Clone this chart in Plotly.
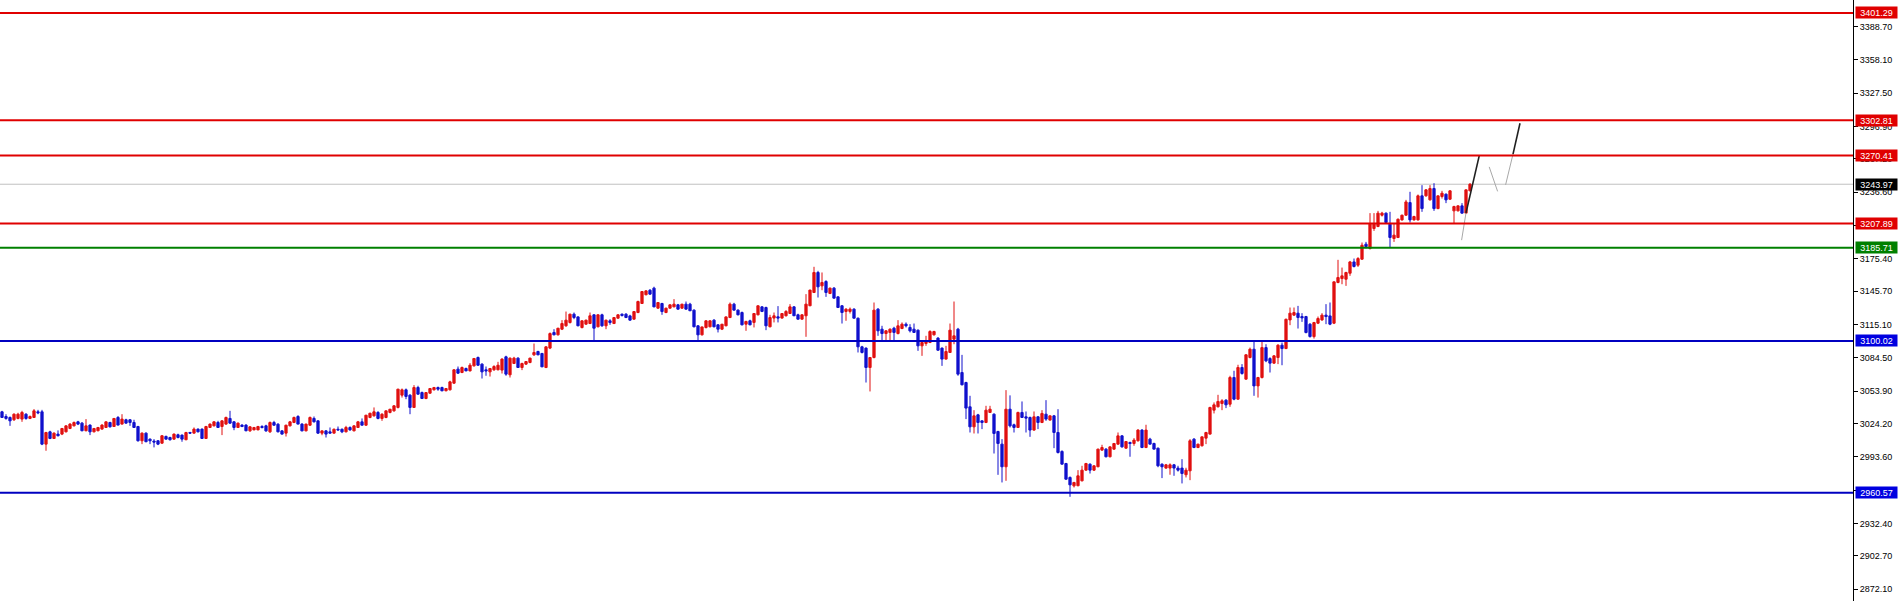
import plotly.graph_objects as go

# ---------------- data ----------------
open_ = [
    3034.9, 3030.6, 3029.7, 3027.6, 3028.8, 3028.2, 3032.7, 3028.8, 3029.7, 3034.9,
    3034.9, 3005.2, 3016.5, 3010.4, 3014.4, 3014.4, 3016.5, 3019.6, 3022.0, 3025.7,
    3024.5, 3017.5, 3022.7, 3016.5, 3017.5, 3019.0, 3020.5, 3025.1, 3021.4, 3029.7,
    3023.6, 3027.6, 3027.6, 3025.1, 3021.4, 3008.3, 3015.3, 3009.8, 3008.0, 3008.3,
    3006.1, 3012.3, 3011.3, 3009.8, 3013.8, 3013.5, 3009.2, 3015.9, 3015.3, 3019.0,
    3019.0, 3010.4, 3020.5, 3022.0, 3025.1, 3021.4, 3023.6, 3028.8, 3025.7, 3020.5,
    3022.7, 3022.7, 3017.4, 3018.3, 3018.3, 3021.4, 3022.0, 3016.5, 3025.1, 3023.5,
    3017.4, 3015.3, 3022.0, 3025.1, 3030.6, 3023.6, 3017.4, 3022.6, 3028.8, 3026.6,
    3015.3, 3017.4, 3016.5, 3015.3, 3018.9, 3018.9, 3016.5, 3020.5, 3017.4, 3020.5,
    3025.7, 3022.6, 3029.7, 3031.2, 3034.3, 3028.8, 3029.7, 3034.3, 3035.8, 3038.9,
    3050.2, 3055.1, 3050.2, 3038.9, 3057.2, 3052.6, 3047.1, 3052.0, 3055.1, 3057.2,
    3057.2, 3054.2, 3055.1, 3061.2, 3074.1, 3071.0, 3074.7, 3072.5, 3077.1, 3084.8,
    3078.7, 3073.5, 3071.6, 3073.5, 3073.5, 3073.2, 3085.4, 3068.9, 3079.3, 3084.2,
    3075.6, 3078.7, 3080.2, 3087.2, 3090.3, 3088.5, 3075.6, 3093.4, 3107.8, 3105.6,
    3110.8, 3113.9, 3116.9, 3124.6, 3122.1, 3112.3, 3115.4, 3116.0, 3124.0, 3113.0,
    3124.0, 3113.9, 3118.5, 3116.0, 3120.9, 3124.6, 3124.6, 3123.0, 3120.0, 3126.1,
    3134.4, 3142.4, 3146.6, 3148.5, 3130.1, 3134.4, 3126.1, 3130.1, 3131.3, 3133.2,
    3130.1, 3133.8, 3133.8, 3128.3, 3113.9, 3105.6, 3112.3, 3113.0, 3119.1, 3114.8,
    3110.8, 3113.9, 3121.5, 3133.8, 3128.3, 3126.1, 3115.4, 3118.5, 3117.0, 3124.0,
    3131.3, 3130.7, 3113.0, 3121.0, 3122.2, 3121.0, 3123.1, 3125.2, 3131.3, 3124.0,
    3120.0, 3123.1, 3132.3, 3144.5, 3162.9, 3150.6, 3154.6, 3143.6, 3148.5, 3140.5,
    3132.3, 3127.1, 3127.1, 3129.2, 3120.9, 3094.6, 3093.4, 3075.6, 3084.8, 3129.2,
    3110.8, 3106.8, 3107.8, 3111.7, 3106.8, 3111.4, 3115.4, 3112.4, 3110.8, 3109.9,
    3095.5, 3097.7, 3098.6, 3105.6, 3102.6, 3093.4, 3083.3, 3089.4, 3101.6, 3110.8,
    3071.0, 3061.8, 3039.5, 3021.1, 3032.1, 3026.6, 3025.1, 3034.3, 3032.7, 3016.8,
    3005.2, 2984.4, 3037.3, 3023.0, 3020.5, 3034.3, 3030.3, 3029.7, 3018.1, 3030.3,
    3025.1, 3032.7, 3027.3, 3031.2, 3015.9, 2998.5, 2987.4, 2974.6, 2966.9, 2967.0,
    2971.5, 2981.3, 2986.8, 2981.3, 2984.4, 2999.7, 3000.6, 2993.6, 3000.6, 3005.2,
    3012.8, 3001.5, 3006.7, 3005.8, 3008.3, 3018.1, 3002.1, 3009.8, 3005.8, 3001.5,
    2986.8, 2983.2, 2983.2, 2986.2, 2983.2, 2983.2, 2977.1, 2980.7, 3009.8, 3002.1,
    3003.7, 3010.7, 3014.4, 3036.4, 3039.5, 3042.5, 3045.6, 3041.9, 3066.4, 3046.5,
    3075.6, 3064.9, 3084.8, 3092.4, 3058.7, 3066.4, 3093.9, 3083.8, 3079.6, 3084.8,
    3096.1, 3093.0, 3119.3, 3123.7, 3125.5, 3122.4, 3122.4, 3115.4, 3104.0, 3116.3,
    3119.3, 3123.7, 3123.0, 3116.3, 3153.7, 3157.3, 3156.7, 3162.2, 3172.6, 3169.6,
    3175.1, 3188.9, 3184.9, 3203.3, 3205.1, 3215.5, 3217.4, 3207.3, 3194.1, 3195.0,
    3211.2, 3215.5, 3227.1, 3211.2, 3211.2, 3233.3, 3233.3, 3229.6, 3240.0, 3221.6,
    3232.7, 3234.8, 3230.2, 3219.5, 3219.5, 3224.1, 3217.4, 3237.9,
]
high = [
    3035.8, 3032.7, 3030.6, 3033.5, 3034.0, 3035.8, 3033.6, 3031.5, 3037.4, 3036.7,
    3036.7, 3016.5, 3017.5, 3016.0, 3017.8, 3020.0, 3022.5, 3024.5, 3026.0, 3026.6,
    3025.5, 3028.2, 3023.3, 3020.0, 3021.0, 3023.5, 3026.0, 3025.7, 3029.0, 3031.0,
    3032.7, 3028.5, 3028.2, 3027.6, 3022.0, 3016.0, 3016.0, 3010.4, 3009.8, 3008.9,
    3013.5, 3013.0, 3012.0, 3015.0, 3014.8, 3014.0, 3016.5, 3016.5, 3020.5, 3019.6,
    3019.6, 3022.0, 3024.2, 3026.2, 3026.6, 3027.2, 3030.5, 3035.8, 3026.4, 3025.0,
    3023.5, 3023.5, 3021.8, 3021.0, 3022.0, 3022.6, 3023.0, 3026.0, 3026.6, 3024.5,
    3018.0, 3023.0, 3026.5, 3030.5, 3031.8, 3024.5, 3024.0, 3030.6, 3030.6, 3027.0,
    3017.6, 3018.0, 3020.5, 3019.5, 3021.4, 3019.5, 3022.0, 3021.5, 3022.6, 3026.5,
    3028.8, 3032.0, 3034.0, 3038.9, 3035.5, 3033.6, 3036.0, 3037.5, 3041.0, 3056.0,
    3056.3, 3056.3, 3051.0, 3059.4, 3058.8, 3053.5, 3053.0, 3056.5, 3057.8, 3058.1,
    3058.0, 3056.8, 3063.4, 3074.0, 3076.5, 3076.5, 3075.5, 3079.6, 3084.0, 3085.7,
    3079.5, 3076.5, 3075.0, 3077.7, 3080.8, 3084.2, 3086.4, 3084.8, 3085.4, 3085.0,
    3080.0, 3081.5, 3084.5, 3097.6, 3091.0, 3089.0, 3095.0, 3107.8, 3110.8, 3112.0,
    3119.1, 3127.0, 3125.0, 3126.1, 3122.7, 3119.0, 3119.5, 3126.1, 3124.5, 3124.5,
    3125.0, 3119.5, 3120.0, 3122.0, 3124.5, 3125.2, 3125.5, 3124.0, 3127.5, 3137.0,
    3145.5, 3146.5, 3147.6, 3149.8, 3135.5, 3135.0, 3130.5, 3133.5, 3138.4, 3134.0,
    3134.0, 3136.2, 3135.0, 3129.0, 3114.5, 3113.0, 3119.0, 3119.0, 3120.0, 3115.5,
    3115.5, 3122.5, 3135.3, 3135.0, 3129.0, 3127.0, 3118.5, 3119.5, 3125.5, 3132.5,
    3132.0, 3131.5, 3124.0, 3126.1, 3132.0, 3125.5, 3128.3, 3133.8, 3132.0, 3125.0,
    3124.5, 3143.0, 3147.0, 3168.1, 3164.4, 3162.9, 3155.8, 3149.0, 3149.5, 3141.0,
    3133.0, 3130.0, 3130.7, 3130.0, 3121.5, 3095.5, 3094.0, 3085.0, 3135.3, 3130.1,
    3113.9, 3110.0, 3111.5, 3113.0, 3119.1, 3117.0, 3117.0, 3115.4, 3116.0, 3110.5,
    3099.0, 3104.7, 3109.8, 3109.3, 3103.5, 3094.0, 3095.5, 3116.0, 3136.2, 3112.0,
    3087.2, 3062.5, 3049.6, 3036.4, 3033.0, 3027.0, 3040.4, 3040.4, 3033.5, 3017.5,
    3009.8, 3054.8, 3050.0, 3024.0, 3035.0, 3044.4, 3035.2, 3030.5, 3035.2, 3031.0,
    3036.4, 3045.6, 3031.5, 3032.0, 3037.3, 2999.5, 2988.0, 2975.5, 2970.5, 2981.3,
    2985.3, 2988.0, 2987.5, 2985.8, 3001.0, 3004.6, 3001.5, 3003.0, 3006.0, 3015.9,
    3013.5, 3008.0, 3007.5, 3010.7, 3019.0, 3019.0, 3023.0, 3011.0, 3006.5, 3002.0,
    2987.5, 2987.0, 2987.5, 2987.0, 2985.3, 2991.4, 2983.5, 3009.8, 3010.7, 3005.5,
    3012.0, 3016.5, 3039.5, 3043.5, 3050.5, 3046.5, 3046.5, 3068.0, 3072.6, 3078.1,
    3078.7, 3087.6, 3093.9, 3100.1, 3067.0, 3100.1, 3097.0, 3085.0, 3087.0, 3097.0,
    3098.5, 3120.5, 3130.7, 3130.7, 3132.2, 3125.5, 3123.0, 3116.3, 3117.5, 3122.4,
    3125.5, 3133.8, 3135.3, 3154.5, 3174.5, 3167.4, 3163.5, 3173.5, 3175.7, 3177.0,
    3190.4, 3191.0, 3217.4, 3217.4, 3219.5, 3218.6, 3218.0, 3218.6, 3208.2, 3212.5,
    3216.0, 3229.6, 3237.0, 3215.0, 3234.5, 3243.1, 3239.5, 3243.1, 3244.9, 3233.5,
    3237.9, 3235.5, 3238.5, 3224.2, 3224.5, 3226.6, 3239.0, 3245.0,
]
low = [
    3029.4, 3027.6, 3022.0, 3026.5, 3028.0, 3025.7, 3027.6, 3028.2, 3029.4, 3032.7,
    3004.3, 2999.1, 3009.8, 3010.0, 3012.3, 3013.5, 3016.0, 3019.0, 3021.5, 3022.7,
    3017.0, 3017.0, 3013.5, 3016.0, 3017.0, 3018.5, 3020.0, 3020.5, 3021.0, 3022.5,
    3023.3, 3024.0, 3022.0, 3020.2, 3007.5, 3005.2, 3007.0, 3005.2, 3002.2, 3004.3,
    3005.5, 3009.5, 3008.5, 3009.2, 3010.5, 3007.4, 3008.9, 3014.7, 3015.0, 3016.0,
    3010.0, 3010.0, 3020.0, 3021.5, 3020.2, 3013.5, 3023.0, 3023.9, 3018.0, 3020.0,
    3020.8, 3017.0, 3016.5, 3018.0, 3018.0, 3019.6, 3016.5, 3015.5, 3022.0, 3016.0,
    3014.0, 3012.2, 3021.5, 3024.5, 3023.5, 3017.0, 3017.0, 3022.0, 3025.1, 3014.5,
    3013.4, 3011.3, 3015.2, 3015.0, 3017.4, 3015.3, 3016.0, 3017.5, 3017.0, 3020.0,
    3022.5, 3022.0, 3029.0, 3030.5, 3028.0, 3026.6, 3029.0, 3033.5, 3035.0, 3038.0,
    3048.0, 3046.5, 3032.7, 3038.5, 3050.5, 3046.8, 3046.5, 3051.5, 3054.5, 3054.2,
    3053.8, 3053.8, 3054.5, 3060.5, 3069.6, 3070.4, 3072.2, 3072.0, 3076.5, 3077.1,
    3065.5, 3068.0, 3067.3, 3072.5, 3073.0, 3070.1, 3068.0, 3066.4, 3079.0, 3075.5,
    3073.2, 3078.0, 3079.5, 3086.3, 3087.0, 3076.0, 3075.0, 3092.5, 3105.2, 3105.0,
    3110.0, 3113.0, 3116.0, 3120.0, 3113.5, 3111.5, 3115.0, 3115.5, 3100.1, 3112.5,
    3113.0, 3110.8, 3114.8, 3115.5, 3120.5, 3122.4, 3121.0, 3118.7, 3119.5, 3125.5,
    3134.0, 3142.0, 3142.5, 3131.0, 3129.5, 3124.0, 3125.5, 3129.8, 3131.0, 3128.8,
    3129.5, 3128.8, 3127.5, 3112.5, 3100.1, 3105.0, 3111.5, 3112.5, 3112.5, 3107.8,
    3110.0, 3113.5, 3121.0, 3128.0, 3123.5, 3114.3, 3109.3, 3114.5, 3112.4, 3123.5,
    3126.5, 3109.9, 3112.5, 3117.0, 3117.0, 3120.5, 3122.5, 3124.8, 3123.0, 3119.5,
    3119.5, 3103.8, 3132.0, 3144.0, 3139.9, 3146.6, 3140.5, 3143.0, 3139.0, 3130.5,
    3116.0, 3118.5, 3125.2, 3120.7, 3089.4, 3088.5, 3061.8, 3053.6, 3084.0, 3104.7,
    3100.7, 3100.1, 3100.7, 3100.1, 3106.0, 3110.8, 3112.4, 3107.8, 3107.5, 3090.9,
    3086.3, 3095.5, 3098.0, 3105.0, 3091.0, 3077.1, 3083.0, 3089.0, 3097.0, 3068.0,
    3059.2, 3028.2, 3015.9, 3015.0, 3015.0, 3019.0, 3024.5, 3033.8, 2996.6, 2977.0,
    2970.0, 2971.5, 3020.5, 3015.9, 3020.0, 3029.5, 3015.9, 3011.9, 3017.5, 3019.0,
    3024.5, 3026.6, 3026.8, 3001.5, 2996.6, 2986.5, 2972.5, 2956.8, 2965.4, 2966.5,
    2971.0, 2980.8, 2978.2, 2980.5, 2984.0, 2999.0, 2993.0, 2993.0, 3000.0, 3004.6,
    3002.0, 3001.0, 2993.6, 3003.7, 3007.5, 3001.5, 3001.5, 3005.0, 3000.5, 2984.0,
    2974.0, 2982.5, 2977.1, 2976.1, 2980.0, 2969.1, 2974.6, 2972.1, 3001.5, 3001.5,
    3003.0, 3005.2, 3014.0, 3033.4, 3038.9, 3036.4, 3038.3, 3039.5, 3045.5, 3046.0,
    3069.0, 3064.5, 3084.0, 3049.6, 3048.0, 3065.5, 3080.5, 3071.0, 3079.0, 3078.7,
    3077.7, 3092.5, 3114.5, 3123.0, 3111.4, 3117.5, 3107.0, 3103.1, 3102.2, 3115.5,
    3118.5, 3115.4, 3114.5, 3115.5, 3153.0, 3152.1, 3150.6, 3159.8, 3167.5, 3168.0,
    3174.5, 3185.0, 3184.0, 3201.1, 3204.5, 3214.3, 3208.3, 3185.8, 3191.0, 3194.5,
    3210.5, 3215.0, 3208.8, 3210.5, 3210.5, 3218.6, 3232.5, 3229.0, 3219.5, 3221.0,
    3230.8, 3226.6, 3229.6, 3208.2, 3219.0, 3217.0, 3217.0, 3237.5,
]
close = [
    3029.7, 3028.8, 3026.6, 3032.7, 3032.7, 3034.3, 3028.8, 3030.6, 3035.8, 3034.0,
    3005.2, 3015.9, 3010.4, 3015.3, 3012.9, 3019.6, 3022.0, 3023.6, 3025.1, 3023.6,
    3017.5, 3022.0, 3016.5, 3019.6, 3020.5, 3022.7, 3025.7, 3021.1, 3028.8, 3022.7,
    3028.2, 3024.5, 3025.1, 3020.5, 3008.3, 3015.3, 3007.4, 3008.3, 3007.1, 3005.2,
    3012.9, 3009.8, 3009.2, 3014.4, 3011.3, 3009.8, 3015.9, 3015.3, 3019.0, 3016.5,
    3010.4, 3021.4, 3023.6, 3025.7, 3020.5, 3026.6, 3029.7, 3024.5, 3020.5, 3024.5,
    3021.4, 3017.5, 3021.1, 3020.5, 3021.4, 3020.5, 3017.4, 3025.1, 3022.6, 3016.5,
    3014.4, 3022.6, 3025.7, 3029.7, 3023.6, 3017.4, 3023.6, 3029.7, 3025.7, 3015.3,
    3017.4, 3014.4, 3015.3, 3018.9, 3018.3, 3016.5, 3020.5, 3018.3, 3022.0, 3025.7,
    3022.6, 3031.8, 3033.6, 3034.9, 3028.8, 3032.7, 3035.8, 3037.3, 3040.4, 3055.7,
    3055.1, 3049.0, 3038.9, 3057.2, 3051.1, 3047.1, 3052.6, 3056.3, 3057.2, 3055.7,
    3054.2, 3056.3, 3062.4, 3073.5, 3070.4, 3075.6, 3072.5, 3077.7, 3083.9, 3077.7,
    3071.6, 3072.5, 3074.7, 3076.5, 3077.7, 3083.3, 3069.5, 3084.2, 3084.2, 3075.6,
    3079.3, 3081.1, 3084.2, 3089.4, 3087.2, 3076.2, 3094.6, 3106.8, 3105.6, 3111.7,
    3116.0, 3119.1, 3124.6, 3121.5, 3113.9, 3118.5, 3119.1, 3123.1, 3111.7, 3124.0,
    3113.9, 3119.1, 3116.9, 3121.5, 3124.0, 3123.4, 3121.5, 3119.1, 3127.0, 3136.2,
    3145.4, 3146.0, 3143.0, 3131.3, 3135.3, 3127.0, 3130.1, 3133.2, 3133.8, 3129.2,
    3133.8, 3129.2, 3127.7, 3113.0, 3105.6, 3112.9, 3118.5, 3118.5, 3113.0, 3110.8,
    3115.4, 3122.1, 3133.8, 3128.3, 3124.0, 3114.8, 3117.9, 3114.8, 3125.2, 3132.3,
    3127.1, 3113.9, 3121.5, 3123.1, 3121.0, 3125.2, 3127.1, 3131.3, 3123.1, 3120.0,
    3124.0, 3133.8, 3146.7, 3162.9, 3149.7, 3153.7, 3144.5, 3148.5, 3139.3, 3130.7,
    3126.1, 3129.2, 3129.2, 3120.9, 3094.6, 3089.4, 3075.6, 3084.8, 3128.3, 3109.3,
    3106.8, 3109.3, 3110.8, 3107.8, 3113.9, 3115.4, 3113.9, 3109.3, 3107.8, 3095.5,
    3098.6, 3100.1, 3108.7, 3108.7, 3091.5, 3083.3, 3090.3, 3109.9, 3104.7, 3069.5,
    3059.7, 3038.3, 3021.1, 3031.2, 3025.1, 3025.1, 3036.4, 3037.3, 3015.0, 3005.8,
    2984.4, 3037.3, 3022.0, 3020.5, 3034.3, 3029.7, 3029.1, 3018.1, 3030.3, 3025.1,
    3033.4, 3028.2, 3031.2, 3015.9, 2997.5, 2986.8, 2973.0, 2967.8, 2970.0, 2976.1,
    2981.3, 2987.4, 2981.3, 2985.3, 3000.6, 3002.1, 2993.6, 3002.7, 3005.8, 3012.8,
    3002.7, 3007.6, 3005.8, 3008.9, 3018.1, 3002.1, 3018.1, 3005.2, 3000.6, 2985.3,
    2984.4, 2986.2, 2986.2, 2983.2, 2981.3, 2978.2, 2981.3, 3008.3, 3002.1, 3005.2,
    3011.9, 3015.9, 3038.9, 3041.3, 3044.4, 3045.0, 3041.3, 3066.4, 3046.5, 3075.6,
    3070.1, 3087.3, 3092.4, 3058.7, 3066.4, 3093.9, 3081.7, 3079.6, 3086.3, 3096.1,
    3093.0, 3119.9, 3125.5, 3126.1, 3121.5, 3121.2, 3107.7, 3104.0, 3116.9, 3120.6,
    3123.7, 3122.4, 3115.4, 3154.3, 3158.3, 3159.8, 3162.9, 3172.6, 3168.4, 3175.7,
    3187.9, 3186.7, 3207.3, 3207.3, 3217.4, 3217.4, 3208.8, 3195.0, 3197.2, 3211.8,
    3215.5, 3227.7, 3211.2, 3214.3, 3233.3, 3221.6, 3238.8, 3240.0, 3221.6, 3233.3,
    3235.7, 3229.6, 3237.9, 3223.5, 3224.1, 3217.4, 3238.8, 3243.97,
]

# price-axis tick labels
tick_values = [3388.70, 3358.10, 3327.50, 3296.90, 3267.20, 3236.60, 3206.00,
               3175.40, 3145.70, 3115.10, 3084.50, 3053.90, 3024.20, 2993.60,
               2963.00, 2932.40, 2902.70, 2872.10]

# horizontal levels
level_prices = [3401.29, 3302.81, 3270.41, 3207.89, 3185.71, 3100.02, 2960.57]
level_kinds = ["red", "red", "red", "red", "green", "blue", "blue"]
bid_price = 3243.97

# projection sketch lines (bar index, price)
proj_dark_x = [[366.0, 369.3], [377.75, 379.5]]
proj_dark_y = [[3217.7, 3270.0], [3271.6, 3300.0]]
proj_light_x = [[364.9, 366.0], [371.8, 373.9], [375.9, 377.75]]
proj_light_y = [[3192.6, 3217.7], [3259.9, 3237.4], [3243.4, 3271.6]]

# ---------------- styling ----------------
CANDLE_UP = "#E01010"
CANDLE_DN = "#1010CC"
KIND_COLOR = {"red": "#E00000", "green": "#008000", "blue": "#0000C0"}
LABEL_BG = {"red": "#E00000", "green": "#008000", "blue": "#0000E0"}
FONT = "Liberation Sans"

x_idx = list(range(len(close)))

fig = go.Figure()
fig.add_trace(go.Candlestick(
    x=x_idx, open=open_, high=high, low=low, close=close,
    increasing=dict(line=dict(color=CANDLE_UP, width=1), fillcolor=CANDLE_UP),
    decreasing=dict(line=dict(color=CANDLE_DN, width=1), fillcolor=CANDLE_DN),
    whiskerwidth=0, hoverinfo="skip", showlegend=False,
))

for xs, ys in zip(proj_light_x, proj_light_y):
    fig.add_trace(go.Scatter(x=xs, y=ys, mode="lines",
                             line=dict(color="#A8A8A8", width=1),
                             hoverinfo="skip", showlegend=False))
for xs, ys in zip(proj_dark_x, proj_dark_y):
    fig.add_trace(go.Scatter(x=xs, y=ys, mode="lines",
                             line=dict(color="#202020", width=1.6),
                             hoverinfo="skip", showlegend=False))

shapes = []
annotations = []
shapes.append(dict(type="line", xref="paper", yref="y", x0=0, x1=1,
                   y0=bid_price, y1=bid_price,
                   line=dict(color="#C0C0C0", width=1), layer="below"))
for p, k in zip(level_prices, level_kinds):
    shapes.append(dict(type="line", xref="paper", yref="y", x0=0, x1=1,
                       y0=p, y1=p, line=dict(color=KIND_COLOR[k], width=2)))

label_items = list(zip(level_prices, [LABEL_BG[k] for k in level_kinds]))
label_items.append((bid_price, "#000000"))
for p, bg in label_items:
    annotations.append(dict(
        x=1, xref="paper", xanchor="left", xshift=2,
        y=p, yref="y", yanchor="middle",
        text=f"{p:.2f}", showarrow=False,
        font=dict(family=FONT, size=9, color="#FFFFFF"),
        bgcolor=bg, width=39, height=9, borderpad=1, align="center",
    ))

fig.update_layout(
    width=1900, height=601, autosize=False,
    margin=dict(l=0, r=47, t=0, b=0, pad=0),
    paper_bgcolor="#FFFFFF", plot_bgcolor="#FFFFFF",
    boxgap=0.2,
    shapes=shapes, annotations=annotations,
    showlegend=False,
    xaxis=dict(range=[-0.5, 462.75], visible=False,
               rangeslider=dict(visible=False), fixedrange=True),
    yaxis=dict(range=[2861.1, 3413.2], side="right", automargin=False,
               tickvals=tick_values, ticktext=[f"{v:.2f}" for v in tick_values],
               ticks="outside", ticklen=4, tickcolor="#000000",
               showline=True, linecolor="#000000", linewidth=1,
               showgrid=False, zeroline=False, fixedrange=True,
               tickfont=dict(family=FONT, size=9, color="#000000")),
)

fig.write_html("out.html", config={"displayModeBar": False},
               post_script="document.body.style.margin='0';"
                           "document.body.style.overflow='hidden';")
